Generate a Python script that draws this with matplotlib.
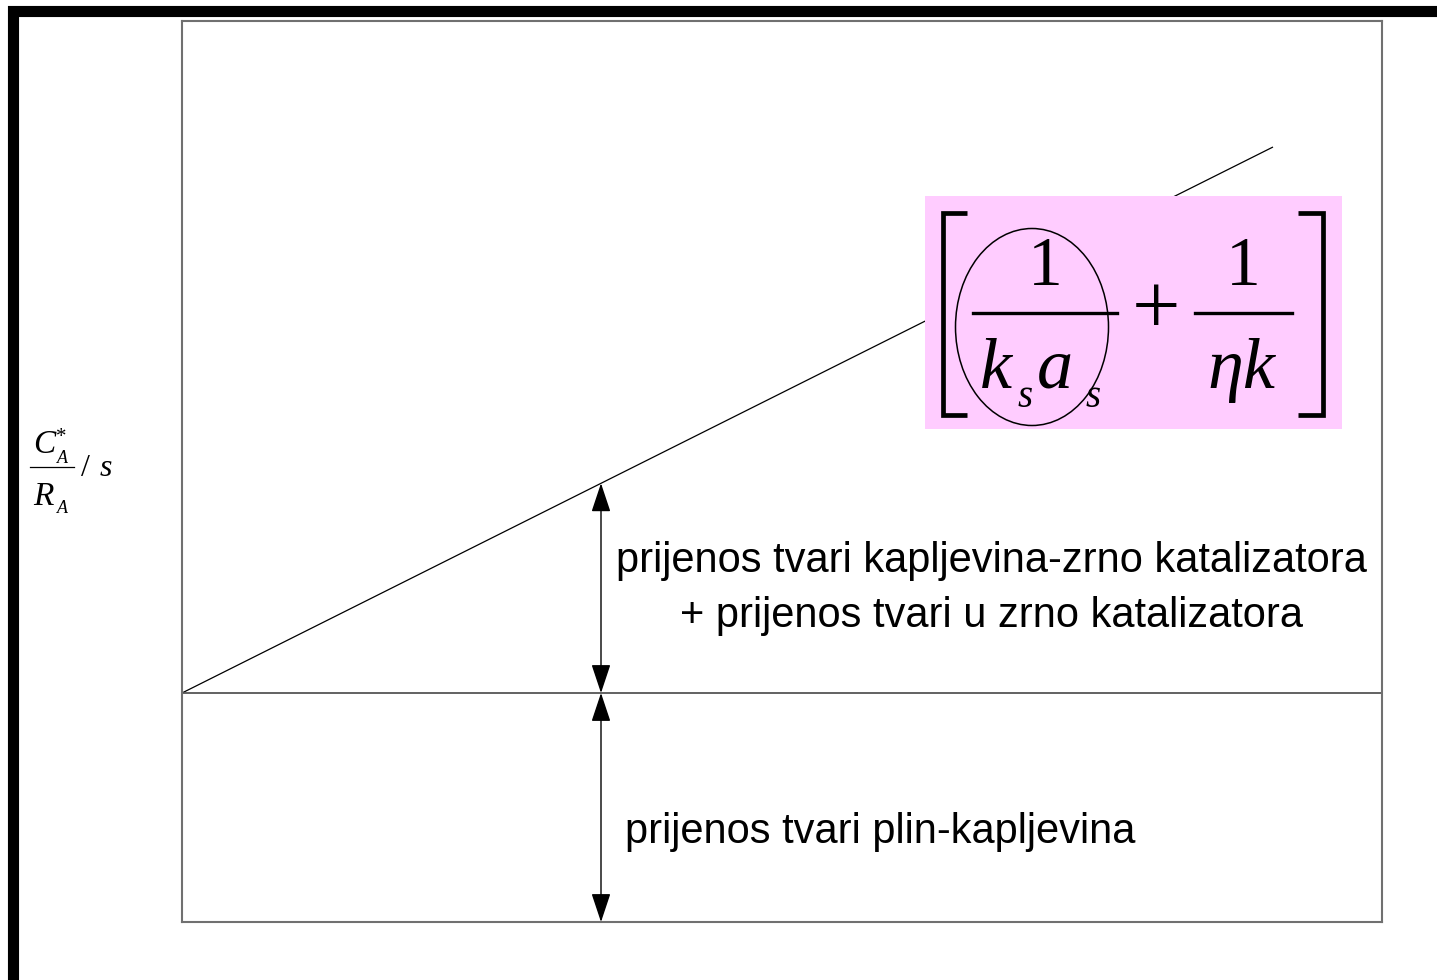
import matplotlib
matplotlib.use("Agg")
import matplotlib.pyplot as plt
from matplotlib.patches import Rectangle, Ellipse
from matplotlib.lines import Line2D

W, H = 1437, 980

# diagram data (x in units of the box width split into 12, y relative to gas-liquid level)
x_range = [0.0, 12.0]
y_range = [-2.29, 6.72]
line_x = [0.0, 10.91]
line_y = [0.0, 5.46]
base_level = 0.0
arrow_x = 4.19

label_upper = ["prijenos tvari kapljevina-zrno katalizatora",
               "+ prijenos tvari u zrno katalizatora"]
label_lower = "prijenos tvari plin-kapljevina"

SERIF = "Liberation Serif"
SANS = "Liberation Sans"


def px(x, y):
    # pixel position (from top-left) -> figure fraction
    return x / W, 1 - y / H


fig = plt.figure(figsize=(W / 100, H / 100), dpi=100)
ax = fig.add_axes([182 / W, 1 - 922 / H, 1200 / W, 901 / H])
ax.set_xlim(*x_range)
ax.set_ylim(*y_range)
ax.set_xticks([]); ax.set_yticks([])
for sp in ax.spines.values():
    sp.set_color("#707070"); sp.set_linewidth(1.5)

ax.plot(line_x, line_y, color="black", lw=0.9, solid_capstyle="butt")
ax.axhline(base_level, color="#555555", lw=1.3)

# slope at the arrow position
top_y = line_y[0] + (line_y[1] - line_y[0]) / (line_x[1] - line_x[0]) * (arrow_x - line_x[0])
arr = dict(arrowstyle="<|-|>,head_length=1.8,head_width=0.6", mutation_scale=10,
           color="black", lw=1.0, shrinkA=0, shrinkB=0)
ax.annotate("", xy=(arrow_x, top_y), xytext=(arrow_x, base_level), arrowprops=arr)
ax.annotate("", xy=(arrow_x, base_level), xytext=(arrow_x, y_range[0]), arrowprops=arr)

for txt, yb in zip(label_upper, (572, 627)):
    fig.text(*px(991, yb), txt, ha="center", va="baseline", family=SANS, fontsize=30)
fig.text(*px(625, 843), label_lower, ha="left", va="baseline", family=SANS, fontsize=30)

# outer frame (bottom edge falls outside the picture)
fig.add_artist(Rectangle((12.5 / W, -0.05), (W + 1 - 12.5) / W, 1.05 - 11 / H, transform=fig.transFigure,
                         fill=False, ec="black", lw=8.0, joinstyle="miter"))

# formula box
fig.add_artist(Rectangle(px(925, 429), 417 / W, 233 / H, transform=fig.transFigure,
                         fc="#ffccff", ec="none", zorder=5))
for xs in ([967, 942.5, 942.5, 967], [1298, 1322.5, 1322.5, 1298]):
    fig.add_artist(Line2D([x / W for x in xs], [1 - y / H for y in (213, 213, 415, 415)],
                          transform=fig.transFigure, color="black", lw=3.4,
                          solid_joinstyle="miter", solid_capstyle="butt", zorder=6))
for x0, x1 in ((973, 1117), (1195, 1292)):
    fig.add_artist(Line2D([x0 / W, x1 / W], [1 - 313 / H] * 2, transform=fig.transFigure,
                          color="black", lw=2.4, zorder=6))
fig.text(*px(1045, 285), "1", ha="center", va="baseline", family=SERIF, fontsize=50, zorder=7)
fig.text(*px(1243, 285), "1", ha="center", va="baseline", family=SERIF, fontsize=50, zorder=7)
fig.text(*px(1156, 334), "+", ha="center", va="baseline", family=SERIF, fontsize=62, zorder=7)
fig.text(*px(996, 388), "k", ha="center", va="baseline", family=SERIF, style="italic", fontsize=52, zorder=7)
fig.text(*px(1025, 407), "s", ha="center", va="baseline", family=SERIF, style="italic", fontsize=28, zorder=7)
fig.text(*px(1055, 388), "a", ha="center", va="baseline", family=SERIF, style="italic", fontsize=52, zorder=7)
fig.text(*px(1093, 407), "s", ha="center", va="baseline", family=SERIF, style="italic", fontsize=28, zorder=7)
fig.text(*px(1241, 388), "\u03b7k", ha="center", va="baseline", family=SERIF, style="italic", fontsize=52, zorder=7)
fig.add_artist(Ellipse(px(1032, 327), 153 / W, 197 / H, transform=fig.transFigure,
                       fill=False, ec="black", lw=1.1, zorder=8))

# y label  C*_A / R_A / s
fig.text(*px(44, 453), "C", ha="center", va="baseline", family=SERIF, style="italic", fontsize=24)
fig.text(*px(62, 463), "A", ha="center", va="baseline", family=SERIF, style="italic", fontsize=13)
fig.text(*px(61, 442), "*", ha="center", va="baseline", family=SERIF, fontsize=15)
fig.add_artist(Line2D([30 / W, 74 / W], [1 - 467 / H] * 2, transform=fig.transFigure, color="black", lw=0.9))
fig.text(*px(43, 505), "R", ha="center", va="baseline", family=SERIF, style="italic", fontsize=24)
fig.text(*px(62, 513), "A", ha="center", va="baseline", family=SERIF, style="italic", fontsize=13)
fig.text(*px(85, 476), "/", ha="center", va="baseline", family=SERIF, fontsize=23)
fig.text(*px(106, 476), "s", ha="center", va="baseline", family=SERIF, style="italic", fontsize=23)

fig.savefig("out.png", dpi=100)
